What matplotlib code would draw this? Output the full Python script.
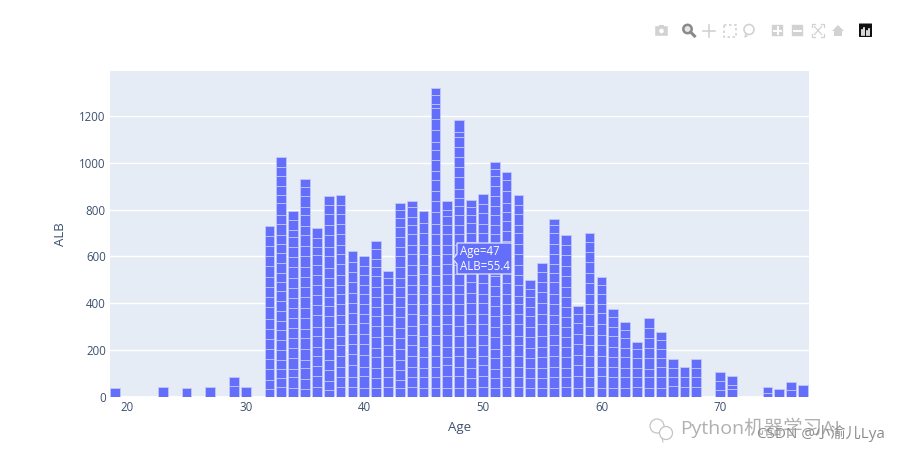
import matplotlib
matplotlib.use('Agg')
import matplotlib.pyplot as plt
import numpy as np
from matplotlib.patches import Circle, FancyBboxPatch, Polygon, Rectangle

# Age values that have at least one record
ages = [19, 23, 25, 27, 29, 30, 32, 33, 34, 35, 36, 37, 38, 39, 40, 41, 42, 43, 44, 45,
        46, 47, 48, 49, 50, 51, 52, 53, 54, 55, 56, 57, 58, 59, 60, 61, 62, 63, 64, 65,
        66, 67, 68, 70, 71, 74, 75, 76, 77]

# Segment boundaries, bottom to top (last one = bar height)
alb_tops = [
    [38], [44], [38], [41], [46, 87], [41],
    [36, 71, 120, 162, 207, 249, 292, 335, 384, 427, 470, 514, 560, 602, 645, 688, 732],
    [43, 83, 120, 159, 199, 242, 285, 325, 367, 410, 453, 492, 531, 572, 613, 655, 693, 737, 779, 828, 862, 901, 942, 982, 1026],
    [40, 84, 120, 168, 209, 250, 293, 337, 380, 424, 466, 510, 553, 596, 640, 682, 713, 754, 796],
    [34, 78, 122, 160, 205, 250, 292, 336, 380, 426, 470, 512, 556, 600, 644, 690, 730, 776, 812, 858, 895, 931],
    [42, 90, 131, 177, 215, 262, 300, 350, 394, 434, 480, 522, 565, 607, 640, 678, 720],
    [30, 70, 114, 160, 205, 250, 300, 345, 390, 425, 470, 510, 550, 600, 642, 690, 735, 780, 820, 858],
    [42, 85, 130, 176, 222, 262, 312, 350, 395, 438, 480, 520, 566, 610, 650, 695, 740, 780, 820, 861],
    [42, 85, 135, 185, 225, 268, 310, 360, 402, 445, 490, 535, 578, 622],
    [40, 90, 130, 178, 225, 270, 315, 355, 395, 440, 480, 520, 560, 602],
    [40, 80, 125, 170, 210, 257, 305, 345, 385, 428, 470, 515, 555, 590, 632, 665],
    [42, 86, 130, 176, 220, 260, 305, 350, 395, 440, 480, 510, 538],
    [38, 72, 115, 160, 205, 250, 295, 340, 385, 425, 470, 510, 555, 600, 640, 685, 725, 765, 800, 828],
    [42, 84, 130, 175, 220, 265, 305, 355, 395, 440, 480, 520, 565, 610, 650, 695, 735, 770, 810, 835],
    [40, 85, 125, 170, 215, 260, 310, 350, 395, 440, 480, 525, 565, 610, 650, 700, 745, 793],
    [40, 85, 130, 175, 220, 265, 305, 350, 395, 440, 475, 520, 560, 605, 650, 695, 740, 790, 835, 880, 925, 965, 1011, 1053, 1089, 1139, 1189, 1232, 1253, 1288, 1321],
    [40, 90, 135, 170, 215, 265, 310, 350, 395, 440, 480, 525, 570, 610, 650, 695, 735, 773, 797, 838],
    [40, 90, 130, 175, 215, 262, 305, 350, 395, 440, 480, 525, 565, 610, 650, 695, 735, 775, 815, 850, 890, 939, 982, 1025, 1067, 1110, 1132, 1183],
    [40, 80, 125, 165, 215, 265, 310, 355, 400, 445, 490, 530, 575, 620, 660, 700, 745, 775, 810, 841],
    [42, 88, 135, 175, 220, 265, 310, 355, 400, 440, 485, 530, 575, 615, 655, 700, 740, 785, 825, 867],
    [40, 80, 120, 165, 205, 255, 300, 345, 390, 430, 475, 515, 560, 605, 650, 695, 735, 775, 815, 860, 900, 945, 975, 1003],
    [42, 85, 130, 175, 220, 265, 310, 350, 395, 440, 485, 530, 575, 620, 665, 710, 750, 790, 830, 880, 925, 959],
    [42, 85, 130, 175, 220, 262, 310, 355, 395, 430, 480, 520, 565, 610, 655, 700, 735, 780, 820, 861],
    [38, 82, 125, 168, 210, 255, 300, 345, 385, 425, 462, 498],
    [40, 80, 125, 170, 215, 260, 310, 355, 400, 450, 490, 535, 574],
    [40, 85, 130, 175, 220, 265, 310, 350, 395, 440, 490, 530, 570, 610, 655, 700, 735, 761],
    [42, 85, 125, 170, 215, 255, 300, 340, 385, 425, 470, 515, 560, 605, 650, 692],
    [40, 90, 135, 180, 225, 270, 315, 355, 389],
    [42, 85, 130, 175, 220, 265, 305, 355, 395, 440, 485, 530, 575, 620, 660, 702],
    [40, 90, 130, 175, 220, 265, 310, 360, 395, 440, 480, 512],
    [40, 85, 130, 170, 215, 260, 300, 340, 376],
    [38, 85, 125, 170, 210, 250, 285, 319],
    [42, 85, 125, 165, 205, 235],
    [40, 85, 120, 165, 210, 250, 295, 337],
    [40, 85, 130, 165, 205, 245, 278],
    [45, 85, 125, 161],
    [42, 85, 127],
    [42, 85, 125, 164],
    [30, 70, 107],
    [36, 50, 88],
    [18, 41], [33], [28, 65], [50],
]

x_ticks = [20, 30, 40, 50, 60, 70]
y_ticks = [0, 200, 400, 600, 800, 1000, 1200]

BAR_COLOR = '#636efa'
PLOT_BG = '#E5ECF6'
TEXT_COLOR = '#3d5170'
ICON_COLOR = '#d2d2d2'

plt.rcParams['font.family'] = ['Open Sans', 'Noto Sans CJK SC', 'DejaVu Sans']

fig = plt.figure(figsize=(9.02, 4.53), dpi=100, facecolor='white')
ax = fig.add_axes([110 / 902, 56 / 453, 699 / 902, 326 / 453], facecolor=PLOT_BG)

# stacked bars, one segment per record
for age, tops in zip(ages, alb_tops):
    edges = np.concatenate(([0], tops))
    ax.bar([age] * len(tops), np.diff(edges), bottom=edges[:-1], width=0.82,
           color=BAR_COLOR, edgecolor='#c4c9fb', linewidth=0.55, zorder=3)

ax.set_xlim(18.55, 77.5)
ax.set_ylim(0, 1392)
ax.set_xticks(x_ticks)
ax.set_yticks(y_ticks)
ax.grid(axis='y', color='white', linewidth=1, zorder=1)
ax.set_axisbelow(True)
ax.tick_params(length=0, labelsize=8.3, labelcolor=TEXT_COLOR, pad=3)
for spine in ax.spines.values():
    spine.set_visible(False)
ax.axhline(0, color='white', linewidth=2, zorder=2)
ax.set_xlabel('Age', fontsize=9.5, color=TEXT_COLOR, labelpad=5)
ax.set_ylabel('ALB', fontsize=9.5, color=TEXT_COLOR, labelpad=9)

# overlay in pixel coordinates for the hover label, modebar and watermark
over = fig.add_axes([0, 0, 1, 1], facecolor='none')
over.set_xlim(0, 902)
over.set_ylim(453, 0)
over.axis('off')

# hover label
over.add_patch(Polygon([(457, 243), (512, 243), (512, 274), (457, 274), (457, 264), (453, 259), (457, 254)],
                       closed=True, facecolor=BAR_COLOR, edgecolor='#dfe3ff', linewidth=0.9, zorder=5))
over.text(460, 252, 'Age=47', color='white', fontsize=8.3, va='center', zorder=6)
over.text(460, 267, 'ALB=55.4', color='white', fontsize=8.3, va='center', zorder=6)

# modebar icons
over.add_patch(FancyBboxPatch((655.5, 26.5), 12, 9, boxstyle='round,pad=0.3', fc=ICON_COLOR, ec='none'))
over.add_patch(Rectangle((659, 25), 5, 2, fc=ICON_COLOR, ec='none'))
over.add_patch(Circle((661.5, 31), 2.3, fc='white', ec='none'))
over.add_patch(Circle((687.5, 29), 4.2, fc='#e6e6e6', ec='#8a8a8a', lw=1.8))
over.plot([691, 694.5], [32.5, 36], color='#8a8a8a', lw=2.2)
over.plot([709, 709], [24.5, 36.5], color=ICON_COLOR, lw=1.2)
over.plot([703, 715], [30.5, 30.5], color=ICON_COLOR, lw=1.2)
over.add_patch(Rectangle((723.5, 24.5), 12, 12, fc='none', ec=ICON_COLOR, lw=1.2, ls=(0, (1.5, 1.5))))
over.add_patch(Circle((749, 29.5), 5, fc='none', ec=ICON_COLOR, lw=1.2))
over.plot([746, 745, 747], [33.5, 37, 36], color=ICON_COLOR, lw=1)
over.add_patch(FancyBboxPatch((772, 25), 11, 11, boxstyle='round,pad=0.2', fc=ICON_COLOR, ec='none'))
over.plot([774, 781], [30.5, 30.5], color='white', lw=1.4)
over.plot([777.5, 777.5], [27, 34], color='white', lw=1.4)
over.add_patch(FancyBboxPatch((792, 25), 11, 11, boxstyle='round,pad=0.2', fc=ICON_COLOR, ec='none'))
over.plot([794, 801], [30.5, 30.5], color='white', lw=1.4)
for xs, ys in [([812, 812, 815], [27, 24, 24]), ([821, 824, 824], [24, 24, 27]),
               ([812, 812, 815], [34, 37, 37]), ([821, 824, 824], [37, 37, 34])]:
    over.plot(xs, ys, color=ICON_COLOR, lw=0.9)
over.plot([814.5, 821.5], [26.5, 34.5], color=ICON_COLOR, lw=0.9)
over.plot([821.5, 814.5], [26.5, 34.5], color=ICON_COLOR, lw=0.9)
over.add_patch(Polygon([(838, 25), (844, 31), (842, 31), (842, 36), (834, 36), (834, 31), (832, 31)],
                       closed=True, fc=ICON_COLOR, ec='none'))
over.add_patch(FancyBboxPatch((859.5, 24), 12, 12.5, boxstyle='round,pad=0.5', fc='#111111', ec='none'))
for bar_x, bar_top in zip([861.5, 864, 866.5, 869], [30, 28, 31, 29]):
    over.plot([bar_x, bar_x], [bar_top, 35], color='white', lw=1.2)

# watermark
wm = '#c4c4c4'
over.add_patch(Circle((657, 426), 7, fc='white', ec=wm, lw=0.9, zorder=7))
over.add_patch(Circle((666, 433), 6.5, fc='white', ec=wm, lw=0.9, zorder=7))
over.plot([662, 663], [438, 442], color=wm, lw=0.8, zorder=7)
over.text(680, 428, 'Python机器学习AI', color='#b0b0b0', fontsize=14, va='center', zorder=7)
over.text(757, 434, 'CSDN @小渝儿Lya', color='#8c8c8c', fontsize=11, va='center', zorder=8)

fig.savefig('out.png', dpi=100, facecolor='white')
